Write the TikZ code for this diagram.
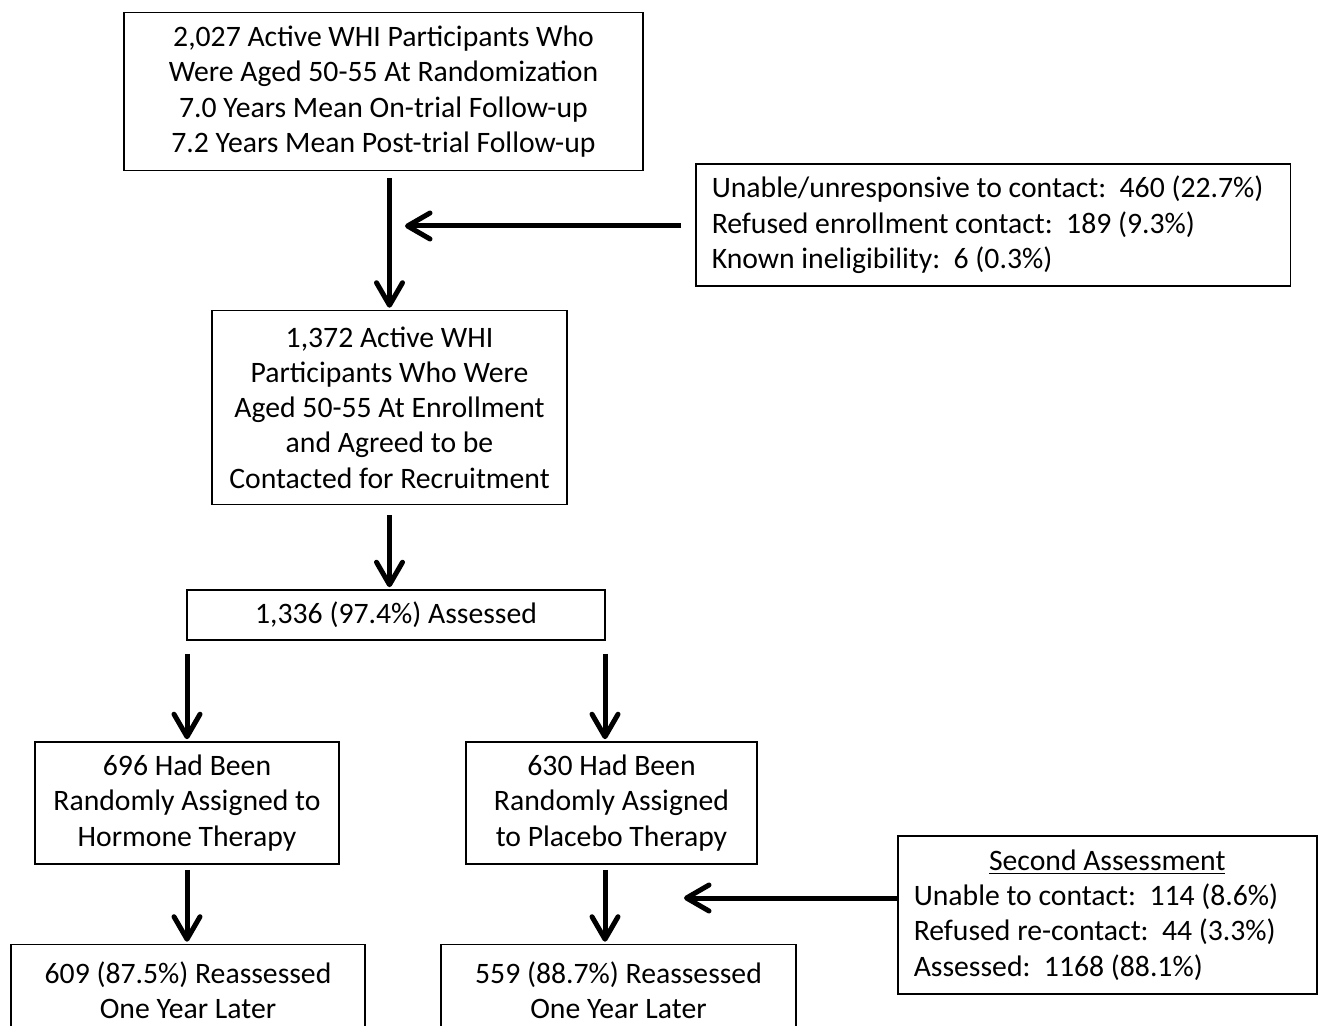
\documentclass[tikz,border=0pt]{standalone}
\usepackage{fontspec}
\setmainfont{Carlito}
\usetikzlibrary{arrows.meta}

\begin{document}
\begin{tikzpicture}[x=0.02cm, y=-0.02cm,
  box/.style={draw, line width=0.9pt, align=center, inner sep=0pt, font=\fontsize{16.9}{20.1}\selectfont},
  sidebox/.style={box, align=flush left, inner xsep=0.32cm, anchor=west},
  arr/.style={-{Straight Barb[length=0.45cm, width=0.52cm, line cap=round, line join=round]}, line width=0.1cm}
]
  \useasboundingbox (0,0) rectangle (1321,1026);
  \clip (0,0) rectangle (1321,1026);

  \node[box, minimum width=10.38cm, minimum height=3.16cm] (cohort) at (383.5,91.5)
    {2,027 Active WHI Participants Who\\Were Aged 50-55 At Randomization\\7.0 Years Mean On-trial Follow-up\\7.2 Years Mean Post-trial Follow-up};
  \node[sidebox, text width=11.26cm, minimum height=2.44cm] (lost) at (695,225)
    {\spaceskip=0pt \xspaceskip=0pt \frenchspacing
     Unable/unresponsive to contact:\ \ 460 (22.7\%)\\Refused enrollment contact:\ \ 189 (9.3\%)\\Known ineligibility:\ \ 6 (0.3\%)};
  \node[box, minimum width=7.1cm, minimum height=3.88cm] (agreed) at (389.5,407.5)
    {1,372 Active WHI\\Participants Who Were\\Aged 50-55 At Enrollment\\and Agreed to be\\Contacted for Recruitment};
  \node[box, minimum width=8.36cm, minimum height=1cm] (assessed) at (396,615)
    {1,336 (97.4\%) Assessed};
  \node[box, minimum width=6.08cm, minimum height=2.44cm] (hormone) at (187,803)
    {696 Had Been\\Randomly Assigned to\\Hormone Therapy};
  \node[box, minimum width=5.82cm, minimum height=2.44cm] (placebo) at (611.5,803)
    {630 Had Been\\Randomly Assigned\\to Placebo Therapy};
  \node[sidebox, text width=7.74cm, minimum height=3.16cm] (second) at (897,915)
    {\spaceskip=0pt \xspaceskip=0pt \frenchspacing
     \makebox[7.74cm]{\underline{Second Assessment}}\\Unable to contact:\ \ 114 (8.6\%)\\Refused re-contact:\ \ 44 (3.3\%)\\Assessed:\ \ 1168 (88.1\%)};
  \node[box, minimum width=7.08cm, minimum height=1.82cm] (reassH) at (188,990)
    {609 (87.5\%) Reassessed\\One Year Later};
  \node[box, minimum width=7.1cm, minimum height=1.82cm] (reassP) at (618.5,990)
    {559 (88.7\%) Reassessed\\One Year Later};

  % arrow columns and side joins
  \coordinate (join1) at (405,226);
  \coordinate (join2) at (684,898);
  \coordinate (lcol) at (187,0);
  \coordinate (rcol) at (605,0);

  \draw[arr, shorten <=0.14cm, shorten >=0.04cm] (cohort.south -| agreed.north) -- (agreed.north);
  \draw[arr, shorten <=0.28cm] (lost.west |- join1) -- (join1);
  \draw[arr, shorten <=0.2cm, shorten >=0.04cm] (agreed.south) -- (agreed.south |- assessed.north);
  \draw[arr, shorten <=0.26cm, shorten >=0.04cm] (assessed.south -| lcol) -- (hormone.north -| lcol);
  \draw[arr, shorten <=0.26cm, shorten >=0.04cm] (assessed.south -| rcol) -- (placebo.north -| rcol);
  \draw[arr, shorten <=0.1cm, shorten >=0.04cm] (hormone.south -| lcol) -- (reassH.north -| lcol);
  \draw[arr, shorten <=0.1cm, shorten >=0.04cm] (placebo.south -| rcol) -- (reassP.north -| rcol);
  \draw[arr] (second.west |- join2) -- (join2);
\end{tikzpicture}
\end{document}
